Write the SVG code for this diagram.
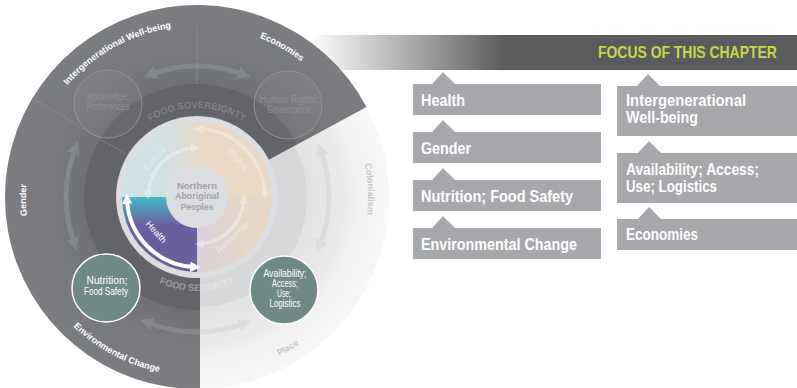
<svg xmlns="http://www.w3.org/2000/svg" width="797" height="388" viewBox="0 0 797 388">
<style>
text{font-family:"Liberation Sans",Arial,sans-serif}
.ol{font-weight:bold;font-size:9px;fill:#fff}
.olL{font-weight:bold;font-size:9px;fill:#c6c7c9}
.band{font-weight:bold;font-size:9.5px}
.q{font-size:9px;fill:#fff}
.nt{font-size:10px;text-anchor:middle}
.core{font-weight:bold;font-size:9.5px;fill:#a3a4a7;text-anchor:middle}
.bx{fill:#a7a8ab}
.bt{font-weight:bold;font-size:16px;fill:#fff}
</style>
<defs>
<linearGradient id="bar" gradientUnits="userSpaceOnUse" x1="310" y1="0" x2="505" y2="0"><stop offset="0" stop-color="#ffffff"/><stop offset="1" stop-color="#5a5b5d"/></linearGradient>
<radialGradient id="darkG" gradientUnits="userSpaceOnUse" cx="197" cy="197" r="192"><stop offset="0.58" stop-color="#6f7074"/><stop offset="0.76" stop-color="#78797d"/><stop offset="1" stop-color="#7c7d81"/></radialGradient>
<radialGradient id="lightG" gradientUnits="userSpaceOnUse" cx="197" cy="197" r="192"><stop offset="0.57" stop-color="#e2e2e2"/><stop offset="0.76" stop-color="#ebebeb"/><stop offset="0.84" stop-color="#f2f2f2"/><stop offset="1" stop-color="#f7f7f7"/></radialGradient>
<linearGradient id="topQ" gradientUnits="userSpaceOnUse" x1="168" y1="0" x2="202" y2="0"><stop offset="0" stop-color="#d0e1e4"/><stop offset="1" stop-color="#ead7c4"/></linearGradient>
<linearGradient id="resQ" gradientUnits="userSpaceOnUse" x1="197" y1="0" x2="245" y2="0"><stop offset="0" stop-color="#d9d0da"/><stop offset="1" stop-color="#e7d5c5"/></linearGradient>
<linearGradient id="healthQ" gradientUnits="userSpaceOnUse" x1="0" y1="198" x2="0" y2="226"><stop offset="0" stop-color="#46b6c4"/><stop offset="1" stop-color="#6b5e9d"/></linearGradient>
<marker id="mo" viewBox="0 0 10 10" refX="3" refY="5" markerWidth="2.6" markerHeight="2.6" orient="auto-start-reverse"><path d="M0,0L10,5L0,10z" fill="#b8c0c0"/></marker>
<marker id="mw" viewBox="0 0 10 10" refX="3" refY="5" markerWidth="2.6" markerHeight="2.6" orient="auto-start-reverse"><path d="M0,0L10,5L0,10z" fill="#ffffff"/></marker>
<path id="tpOut" d="M197,368 A171,171 0 1 1 197,26 A171,171 0 1 1 197,368"/>
<path id="tpBot" d="M18,197 A179,179 0 0 0 376,197"/>
<path id="tpSov" d="M108,197 A89,89 0 0 1 286,197"/>
<path id="tpSec" d="M103,197 A94,94 0 0 0 291,197"/>
</defs>

<rect x="300" y="35" width="497" height="35" fill="url(#bar)"/>
<text transform="translate(598,58) scale(0.845,1)" font-weight="bold" font-size="16.5" fill="#c9d64b">FOCUS OF THIS CHAPTER</text>

<g id="wheel">
<circle cx="197" cy="197" r="192" fill="url(#lightG)"/>
<circle cx="197" cy="197" r="110" fill="#d6d7d8"/>
<path d="M200,197 L200,389 A192,192 0 1 1 366.5,106.9 Z" fill="url(#darkG)"/>
<path d="M200,197 L200,310 A113,113 0 1 1 296.8,143.9 Z" fill="#636468"/>
<line x1="197" y1="25" x2="197" y2="84" stroke="#8a8b8f" stroke-width="0.8"/>
<line x1="128.4" y1="155.8" x2="34.1" y2="99.1" stroke="#a0a1a5" stroke-width="0.8" stroke-dasharray="1.5 2"/>
<text class="ol"><textPath href="#tpOut" startOffset="450.7" text-anchor="middle">Intergenerational Well-being</textPath></text>
<text class="ol"><textPath href="#tpOut" startOffset="625.3" text-anchor="middle">Economies</textPath></text>
<text class="ol"><textPath href="#tpOut" startOffset="265.6" text-anchor="middle">Gender</textPath></text>
<text class="olL"><textPath href="#tpOut" startOffset="797.8" text-anchor="middle">Colonialism</textPath></text>
<text class="ol"><textPath href="#tpBot" startOffset="193.7" text-anchor="middle">Environmental Change</textPath></text>
<text class="olL"><textPath href="#tpBot" startOffset="378" text-anchor="middle">Place</textPath></text>
<text class="band" fill="#818286"><textPath href="#tpSov" startOffset="50%" text-anchor="middle">FOOD SOVEREIGNTY</textPath></text>
<text class="band" fill="#fff" fill-opacity="0.35" font-size="8.5"><textPath href="#tpSec" startOffset="50%" text-anchor="middle">FOOD SECURITY</textPath></text>
<circle cx="197" cy="197" r="81" fill="#dcdde0"/>
<path d="M122,197 A75,75 0 0 1 272,197 Z" fill="url(#topQ)"/>
<path d="M197,197 L272,197 A75,75 0 0 1 197,272 Z" fill="url(#resQ)"/>
<path d="M197,197 L197,272 A75,75 0 0 1 122,197 Z" fill="url(#healthQ)"/>
<g opacity="0.45">
<text class="q" transform="translate(157,160) rotate(-48)" text-anchor="middle">Culture</text>
<text class="q" transform="translate(236,162) rotate(50)" text-anchor="middle">Rights</text>
<text class="q" transform="translate(235,239) rotate(-44)" text-anchor="middle">Resources</text>
</g>
<text class="q" font-size="10" transform="translate(154,234) rotate(48)" text-anchor="middle">Health</text>
</g>

<g id="connectors" fill="none">
<g opacity="0.25" stroke="#b8c0c0" stroke-width="5">
<path d="M152.2,73.9 A131,131 0 0 1 241.8,73.9" marker-start="url(#mo)" marker-end="url(#mo)"/>
<path d="M73.9,241.8 A131,131 0 0 1 74.7,150.1" marker-start="url(#mo)" marker-end="url(#mo)"/>
<path d="M321,151.9 A132,132 0 0 1 320.2,244.3" marker-start="url(#mo)" marker-end="url(#mo)"/>
<path d="M243.2,323.9 A135,135 0 0 1 148.6,323" marker-start="url(#mo)" marker-end="url(#mo)"/>
</g>
<g opacity="0.35" stroke="#fff" stroke-width="3.5">
<path d="M148.1,193.6 A49,49 0 0 1 193.6,148.1" marker-start="url(#mw)" marker-end="url(#mw)"/>
<path d="M200.6,129.1 A68,68 0 0 1 264.9,193.4" marker-start="url(#mw)" marker-end="url(#mw)"/>
<path d="M201.1,243.8 A47,47 0 0 0 243.8,201.1" marker-start="url(#mw)" marker-end="url(#mw)"/>
</g>
<path d="M193.3,266.9 A70,70 0 0 1 127.1,200.7" stroke="#fff" stroke-width="4" marker-start="url(#mw)" marker-end="url(#mw)"/>
</g>

<g id="n-core">
<circle cx="197" cy="197" r="31" fill="#dcdde0"/>
<text class="core" x="197" y="188.5" textLength="40" lengthAdjust="spacingAndGlyphs">Northern</text>
<text class="core" x="197" y="199.2" textLength="44" lengthAdjust="spacingAndGlyphs">Aboriginal</text>
<text class="core" x="197" y="209.9" textLength="33" lengthAdjust="spacingAndGlyphs">Peoples</text>
</g>

<g id="n-knowledge">
<circle cx="108" cy="104" r="34" fill="#fff" fill-opacity="0.04" stroke="#929397" stroke-width="1"/>
<text class="nt" x="108" y="100" fill="#8e8f93" textLength="42" lengthAdjust="spacingAndGlyphs">Knowledge;</text>
<text class="nt" x="108" y="110" fill="#8e8f93" textLength="43" lengthAdjust="spacingAndGlyphs">Preferences</text>
</g>
<g id="n-humanrights">
<circle cx="288" cy="105" r="34" fill="#fff" fill-opacity="0.04" stroke="#929397" stroke-width="1"/>
<text class="nt" x="289" y="103" fill="#8e8f93" textLength="59" lengthAdjust="spacingAndGlyphs">Human Rights;</text>
<text class="nt" x="289" y="113" fill="#8e8f93" textLength="43" lengthAdjust="spacingAndGlyphs">Governance</text>
</g>
<g id="n-nutrition">
<circle cx="106" cy="288" r="34" fill="#6f8a86" stroke="#fff" stroke-width="1.5"/>
<text class="nt" x="107" y="284" fill="#fff" textLength="41" lengthAdjust="spacingAndGlyphs">Nutrition;</text>
<text class="nt" x="106" y="294.5" fill="#fff" textLength="44" lengthAdjust="spacingAndGlyphs">Food Safety</text>
</g>
<g id="n-availability">
<circle cx="284" cy="290" r="34" fill="#6f8a86" stroke="#fff" stroke-width="1.5"/>
<text class="nt" x="285" y="277" fill="#fff" textLength="43" lengthAdjust="spacingAndGlyphs">Availability;</text>
<text class="nt" x="285" y="287" fill="#fff" textLength="26" lengthAdjust="spacingAndGlyphs">Access;</text>
<text class="nt" x="284" y="297" fill="#fff" textLength="14" lengthAdjust="spacingAndGlyphs">Use;</text>
<text class="nt" x="285" y="307" fill="#fff" textLength="31" lengthAdjust="spacingAndGlyphs">Logistics</text>
</g>

<g id="b-health">
<path class="bx" d="M413,84 L432,84 L443,72 L455,84 L601,84 L601,115 L413,115 Z"/>
<text class="bt" x="421" y="106" textLength="44" lengthAdjust="spacingAndGlyphs">Health</text>
</g>
<g id="b-gender">
<path class="bx" d="M413,132 L432,132 L443,120 L455,132 L601,132 L601,163 L413,163 Z"/>
<text class="bt" x="421" y="154" textLength="50" lengthAdjust="spacingAndGlyphs">Gender</text>
</g>
<g id="b-nutrition">
<path class="bx" d="M413,180 L432,180 L443,168 L455,180 L601,180 L601,211 L413,211 Z"/>
<text class="bt" x="421" y="202" textLength="152" lengthAdjust="spacingAndGlyphs">Nutrition; Food Safety</text>
</g>
<g id="b-environment">
<path class="bx" d="M413,228 L432,228 L443,216 L455,228 L601,228 L601,259 L413,259 Z"/>
<text class="bt" x="421" y="250" textLength="156" lengthAdjust="spacingAndGlyphs">Environmental Change</text>
</g>
<g id="b-intergen">
<path class="bx" d="M617,86 L637,86 L648,74 L660,86 L797,86 L797,136 L617,136 Z"/>
<text class="bt" x="626" y="106" textLength="120" lengthAdjust="spacingAndGlyphs">Intergenerational</text>
<text class="bt" x="626" y="123" textLength="72" lengthAdjust="spacingAndGlyphs">Well-being</text>
</g>
<g id="b-availability">
<path class="bx" d="M617,153 L638,153 L649,141 L661,153 L797,153 L797,203 L617,203 Z"/>
<text class="bt" x="626" y="175" textLength="133" lengthAdjust="spacingAndGlyphs">Availability; Access;</text>
<text class="bt" x="626" y="192" textLength="91" lengthAdjust="spacingAndGlyphs">Use; Logistics</text>
</g>
<g id="b-economies">
<path class="bx" d="M617,219 L638,219 L649,207 L661,219 L797,219 L797,250 L617,250 Z"/>
<text class="bt" x="626" y="240" textLength="72" lengthAdjust="spacingAndGlyphs">Economies</text>
</g>
</svg>
